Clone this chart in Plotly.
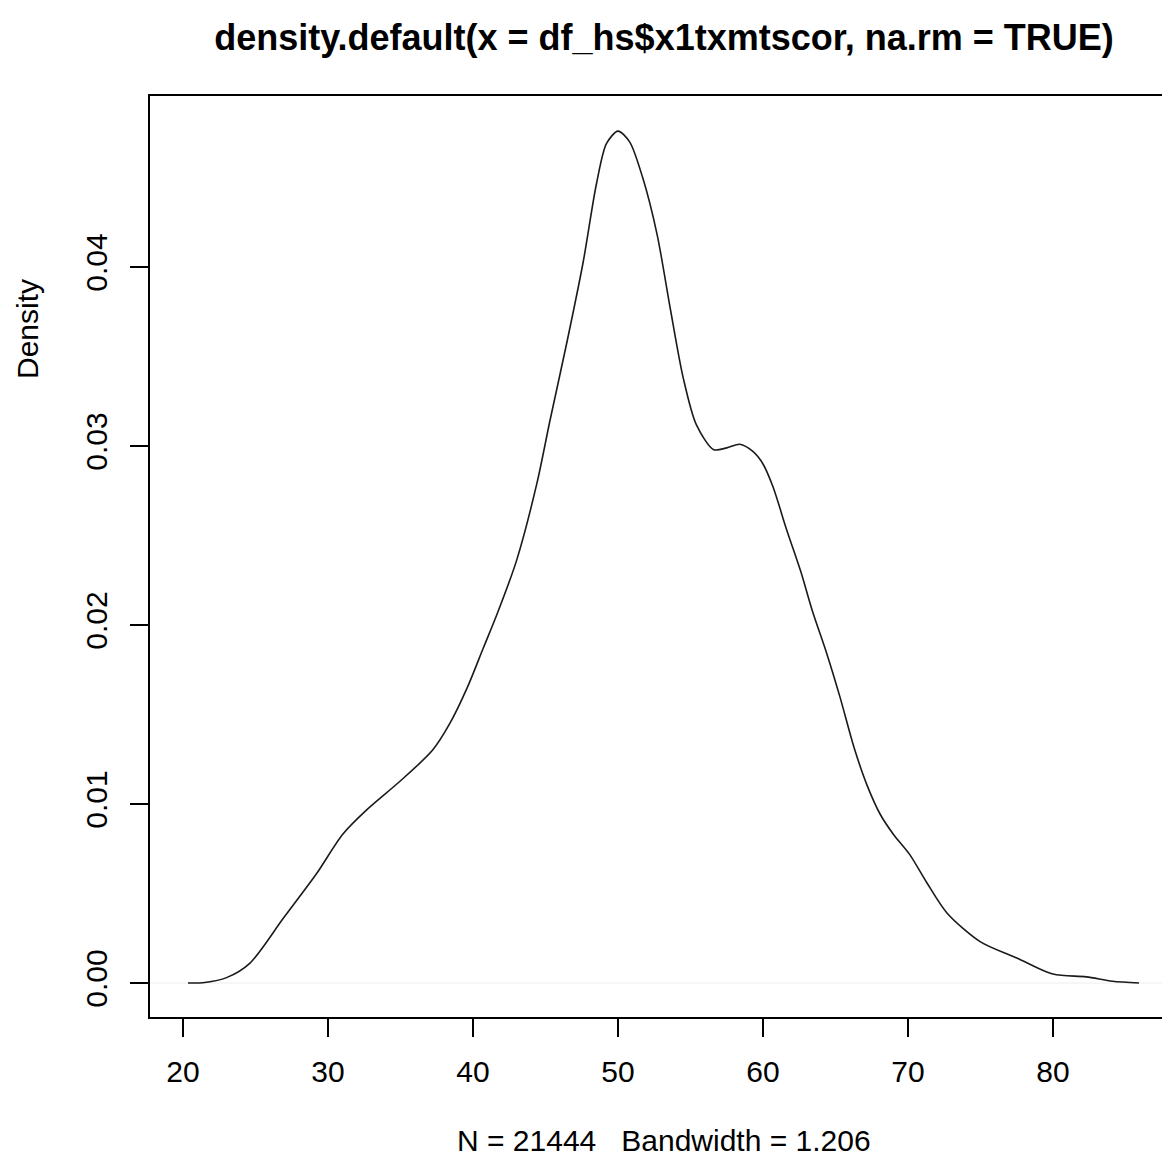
import plotly.graph_objects as go

# Estimated points on the kernel density curve
x_vals = [20.34, 21.5, 23.0, 24.6, 26.9, 29.2, 31.0, 32.7, 35.0, 37.2, 38.4, 39.6,
          40.7, 41.7, 43.0, 44.4, 45.3, 46.5, 47.6, 48.5, 49.2, 50.0, 50.8, 51.7,
          52.7, 53.6, 54.5, 55.4, 56.6, 57.5, 58.4, 59.3, 60.0, 60.7, 61.6, 62.6,
          63.4, 64.4, 65.3, 66.3, 67.2, 68.1, 69.0, 70.1, 71.3, 72.7, 75.0, 77.5,
          80.0, 82.3, 84.1, 85.93]
density_vals = [0.0000, 0.00003, 0.0003, 0.0011, 0.0036, 0.0061, 0.0083, 0.0097,
                0.0113, 0.0130, 0.0145, 0.0165, 0.0187, 0.0207, 0.0236, 0.0279,
                0.0314, 0.0359, 0.0403, 0.0446, 0.0469, 0.0476, 0.0470, 0.0450,
                0.0418, 0.0377, 0.0338, 0.0312, 0.0298, 0.0299, 0.0301, 0.0297,
                0.0290, 0.0277, 0.0254, 0.0230, 0.0208, 0.0184, 0.0160, 0.0131,
                0.0110, 0.0094, 0.0083, 0.0072, 0.0056, 0.0039, 0.0023, 0.0014,
                0.0005, 0.00034, 0.0001, 0.0000]

x_ticks = [20, 30, 40, 50, 60, 70, 80]
y_ticks = [0.00, 0.01, 0.02, 0.03, 0.04]
y_tick_labels = ["0.00", "0.01", "0.02", "0.03", "0.04"]

title_text = "density.default(x = df_hs$x1txmtscor, na.rm = TRUE)"
xlab_text = "N = 21444\u00a0\u00a0\u00a0Bandwidth = 1.206"
ylab_text = "Density"

FONT = "Liberation Sans, Arial, Helvetica, sans-serif"

# the page body adds an 8px offset, so the figure is 8px smaller than the window
W, H = 1162, 1149
OFF = 8

fig = go.Figure()
fig.add_trace(go.Scatter(
    x=x_vals, y=density_vals, mode="lines",
    line=dict(color="#1a1a1a", width=1.6, shape="spline", smoothing=0.8),
    hoverinfo="skip", showlegend=False,
))

# faint zero line
fig.add_hline(y=0, line=dict(color="#eeeeee", width=1.2), layer="below")

fig.update_layout(
    width=W, height=H,
    margin=dict(l=150 - OFF, r=0, t=96 - OFF, b=H - (1017 - OFF)),
    paper_bgcolor="white", plot_bgcolor="white",
    font=dict(family=FONT, size=30, color="black"),
    showlegend=False,
    title=dict(text="<b>" + title_text + "</b>", x=(664 - OFF) / W, xanchor="center",
               xref="container", y=1 - (37 - OFF) / H, yanchor="middle", yref="container",
               font=dict(family=FONT, size=36, color="black")),
    xaxis=dict(
        range=[17.72, 88.07], tickvals=x_ticks, ticktext=[str(v) for v in x_ticks],
        showgrid=False, zeroline=False, showline=True, linecolor="black", linewidth=1.5,
        mirror=True, ticks="outside", ticklen=18, tickwidth=1.5, tickcolor="black",
        ticklabelstandoff=9, tickfont=dict(size=30, family=FONT),
    ),
    yaxis=dict(
        range=[-0.0019, 0.04956], tickvals=y_ticks, ticktext=y_tick_labels,
        tickangle=-90, showgrid=False, zeroline=False, showline=True, linecolor="black",
        linewidth=1.5, ticks="outside", ticklen=18, tickwidth=1.5, tickcolor="black",
        ticklabelstandoff=11, tickfont=dict(size=30, family=FONT),
    ),
    annotations=[
        dict(text=xlab_text, xref="paper", yref="paper", x=(664 - 150) / (W - 150 + OFF),
             y=0, yshift=-(1140 - 1017), xanchor="center", yanchor="middle",
             showarrow=False, font=dict(size=30, family=FONT)),
        dict(text=ylab_text, xref="paper", yref="paper", x=0, y=(1017 - 329) / 921,
             xshift=-(150 - 27), xanchor="center", yanchor="middle", textangle=-90,
             showarrow=False, font=dict(size=30, family=FONT)),
    ],
)

fig.write_html("out.html")
